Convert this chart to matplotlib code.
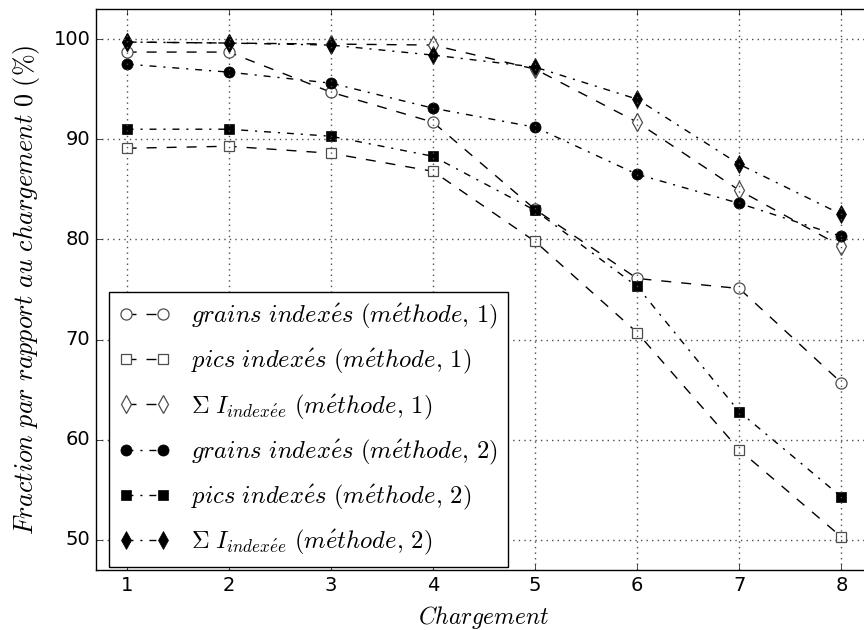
import numpy as np
import matplotlib
matplotlib.use("Agg")
import matplotlib.pyplot as plt

plt.style.use("classic")

# Chargement
chargement = [1, 2, 3, 4, 5, 6, 7, 8]

# méthode 1 (tirets)
grains_m1 = [98.7, 98.7, 94.7, 91.7, 83.0, 76.1, 75.1, 65.7]
pics_m1 = [89.1, 89.3, 88.6, 86.8, 79.8, 70.7, 59.0, 50.3]
intens_m1 = [99.7, 99.6, 99.5, 99.4, 97.0, 91.7, 84.9, 79.3]

# méthode 2 (tirets-points)
grains_m2 = [97.5, 96.7, 95.6, 93.1, 91.2, 86.5, 83.6, 80.3]
pics_m2 = [91.0, 91.0, 90.3, 88.3, 82.9, 75.3, 62.8, 54.3]
intens_m2 = [99.7, 99.6, 99.4, 98.4, 97.2, 94.0, 87.5, 82.5]

labels = [
    r"$grains\ index\acute{e}s\ (m\acute{e}thode,\,1)$",
    r"$pics\ index\acute{e}s\ (m\acute{e}thode,\,1)$",
    r"$\Sigma\ I_{index\acute{e}e}\ (m\acute{e}thode,\,1)$",
    r"$grains\ index\acute{e}s\ (m\acute{e}thode,\,2)$",
    r"$pics\ index\acute{e}s\ (m\acute{e}thode,\,2)$",
    r"$\Sigma\ I_{index\acute{e}e}\ (m\acute{e}thode,\,2)$",
]

fig = plt.figure(figsize=(8.64, 6.3), dpi=100, facecolor="white")
ax = fig.add_axes([96 / 864, 60 / 630, 776 / 864, 561 / 630])
ax.set_facecolor("white")

dash = (0, (7.2, 7.2))
dashdot = (0, (5, 5, 1.5, 5))
open_kw = dict(color="black", lw=1.0, ls=dash, mfc="white", mec="0.3", mew=0.9)
fill_kw = dict(color="black", lw=1.0, ls=dashdot, mfc="black", mec="black")

ax.plot(chargement, grains_m1, marker="o", ms=8, label=labels[0], **open_kw)
ax.plot(chargement, pics_m1, marker="s", ms=7, label=labels[1], **open_kw)
ax.plot(chargement, intens_m1, marker="d", ms=9, label=labels[2], **open_kw)
ax.plot(chargement, grains_m2, marker="o", ms=8, label=labels[3], **fill_kw)
ax.plot(chargement, pics_m2, marker="s", ms=7, label=labels[4], **fill_kw)
ax.plot(chargement, intens_m2, marker="d", ms=9, label=labels[5], **fill_kw)

ax.set_xlim(0.7, 8.3)
ax.set_ylim(47, 103)
ax.set_xticks(chargement)
ax.set_yticks([50, 60, 70, 80, 90, 100])
ax.tick_params(labelsize=14)
ax.grid(True, color="0.3", ls=":", lw=1)

ax.set_xlabel(r"$Chargement$", fontsize=17, labelpad=7)
ax.set_ylabel(r"$Fraction\ par\ rapport\ au\ chargement\ 0\ (\%)$", fontsize=18.8,
              labelpad=8)

ax.legend(loc="lower left", bbox_to_anchor=(0.017, 0.005), borderaxespad=0,
          numpoints=2, fontsize=17.7, handlelength=2.1, handletextpad=0.84,
          labelspacing=0.66, borderpad=0.4, frameon=True)

fig.savefig("out.png", dpi=100, facecolor="white")
